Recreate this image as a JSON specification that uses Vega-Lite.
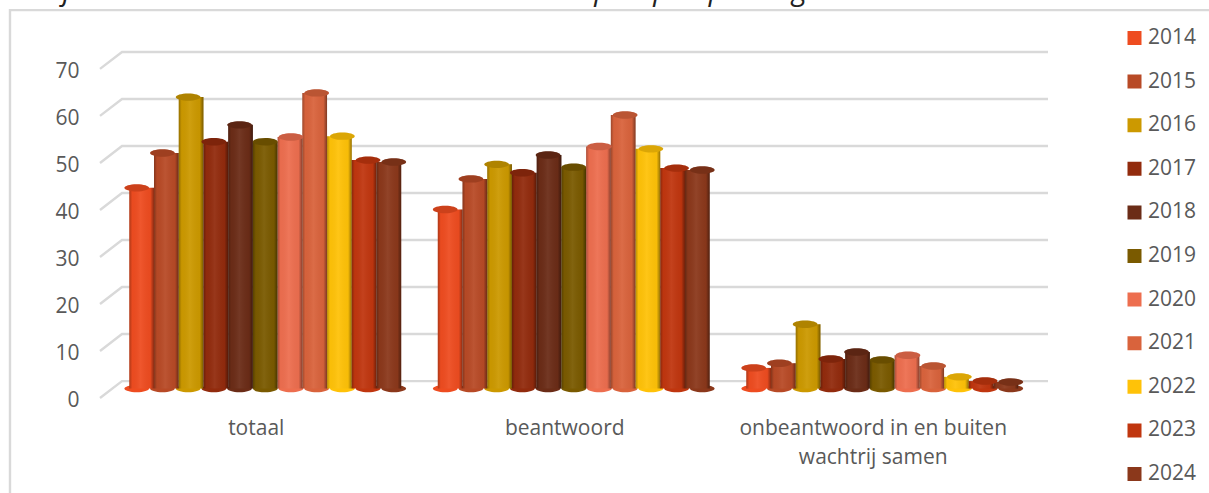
{
  "$schema": "https://vega.github.io/schema/vega-lite/v6.json",
  "autosize": "none",
  "width": 948,
  "height": 362,
  "padding": {"left": 100, "top": 36, "right": 161, "bottom": 95},
  "background": "white",
  "config": {
    "view": {"stroke": null},
    "axis": {"grid": false, "ticks": false, "domain": false}
  },
  "datasets": {
    "counts": [
      {"groep": "totaal", "jaar": "2014", "waarde": 42.7},
      {"groep": "totaal", "jaar": "2015", "waarde": 50.1},
      {"groep": "totaal", "jaar": "2016", "waarde": 62.0},
      {"groep": "totaal", "jaar": "2017", "waarde": 52.5},
      {"groep": "totaal", "jaar": "2018", "waarde": 56.1},
      {"groep": "totaal", "jaar": "2019", "waarde": 52.5},
      {"groep": "totaal", "jaar": "2020", "waarde": 53.5},
      {"groep": "totaal", "jaar": "2021", "waarde": 62.9},
      {"groep": "totaal", "jaar": "2022", "waarde": 53.7},
      {"groep": "totaal", "jaar": "2023", "waarde": 48.6},
      {"groep": "totaal", "jaar": "2024", "waarde": 48.2},
      {"groep": "beantwoord", "jaar": "2014", "waarde": 38.1},
      {"groep": "beantwoord", "jaar": "2015", "waarde": 44.6},
      {"groep": "beantwoord", "jaar": "2016", "waarde": 47.7},
      {"groep": "beantwoord", "jaar": "2017", "waarde": 45.9},
      {"groep": "beantwoord", "jaar": "2018", "waarde": 49.7},
      {"groep": "beantwoord", "jaar": "2019", "waarde": 47.1},
      {"groep": "beantwoord", "jaar": "2020", "waarde": 51.5},
      {"groep": "beantwoord", "jaar": "2021", "waarde": 58.2},
      {"groep": "beantwoord", "jaar": "2022", "waarde": 51.0},
      {"groep": "beantwoord", "jaar": "2023", "waarde": 46.9},
      {"groep": "beantwoord", "jaar": "2024", "waarde": 46.5},
      {"groep": "onbeantwoord in en buiten wachtrij samen", "jaar": "2014", "waarde": 4.4},
      {"groep": "onbeantwoord in en buiten wachtrij samen", "jaar": "2015", "waarde": 5.4},
      {"groep": "onbeantwoord in en buiten wachtrij samen", "jaar": "2016", "waarde": 13.7},
      {"groep": "onbeantwoord in en buiten wachtrij samen", "jaar": "2017", "waarde": 6.3},
      {"groep": "onbeantwoord in en buiten wachtrij samen", "jaar": "2018", "waarde": 7.8},
      {"groep": "onbeantwoord in en buiten wachtrij samen", "jaar": "2019", "waarde": 6.1},
      {"groep": "onbeantwoord in en buiten wachtrij samen", "jaar": "2020", "waarde": 7.1},
      {"groep": "onbeantwoord in en buiten wachtrij samen", "jaar": "2021", "waarde": 4.8},
      {"groep": "onbeantwoord in en buiten wachtrij samen", "jaar": "2022", "waarde": 2.5},
      {"groep": "onbeantwoord in en buiten wachtrij samen", "jaar": "2023", "waarde": 1.6},
      {"groep": "onbeantwoord in en buiten wachtrij samen", "jaar": "2024", "waarde": 1.4}
    ],
    "heading": [
      {"titel": "Grafiek 5.3: Gemiddeld aantal contacten en oproepen per dag", "diepte": -85, "niveau": 82.7}
    ],
    "guides": [
      {"pad": "rand", "diepte": -90, "niveau": -22.2, "stap": 0},
      {"pad": "rand", "diepte": -90, "niveau": 80.5, "stap": 1},
      {"pad": "rand", "diepte": 1109, "niveau": 80.5, "stap": 2},
      {"pad": "g0", "diepte": 0, "niveau": -2, "stap": 0},
      {"pad": "g0", "diepte": 22, "niveau": 1.6, "stap": 1},
      {"pad": "g0", "diepte": 948, "niveau": 1.6, "stap": 2},
      {"pad": "g10", "diepte": 0, "niveau": 8, "stap": 0},
      {"pad": "g10", "diepte": 22, "niveau": 11.6, "stap": 1},
      {"pad": "g10", "diepte": 948, "niveau": 11.6, "stap": 2},
      {"pad": "g20", "diepte": 0, "niveau": 18, "stap": 0},
      {"pad": "g20", "diepte": 22, "niveau": 21.6, "stap": 1},
      {"pad": "g20", "diepte": 948, "niveau": 21.6, "stap": 2},
      {"pad": "g30", "diepte": 0, "niveau": 28, "stap": 0},
      {"pad": "g30", "diepte": 22, "niveau": 31.6, "stap": 1},
      {"pad": "g30", "diepte": 948, "niveau": 31.6, "stap": 2},
      {"pad": "g40", "diepte": 0, "niveau": 38, "stap": 0},
      {"pad": "g40", "diepte": 22, "niveau": 41.6, "stap": 1},
      {"pad": "g40", "diepte": 948, "niveau": 41.6, "stap": 2},
      {"pad": "g50", "diepte": 0, "niveau": 48, "stap": 0},
      {"pad": "g50", "diepte": 22, "niveau": 51.6, "stap": 1},
      {"pad": "g50", "diepte": 948, "niveau": 51.6, "stap": 2},
      {"pad": "g60", "diepte": 0, "niveau": 58, "stap": 0},
      {"pad": "g60", "diepte": 22, "niveau": 61.6, "stap": 1},
      {"pad": "g60", "diepte": 948, "niveau": 61.6, "stap": 2},
      {"pad": "g70", "diepte": 0, "niveau": 68, "stap": 0},
      {"pad": "g70", "diepte": 22, "niveau": 71.6, "stap": 1},
      {"pad": "g70", "diepte": 948, "niveau": 71.6, "stap": 2}
    ]
  },
  "data": {"name": "counts"},
  "resolve": {
    "scale": {"x": "independent", "xOffset": "independent"},
    "axis": {"y": "independent"},
    "legend": {"color": "independent"}
  },
  "layer": [
    {
      "data": {"name": "guides"},
      "mark": {"type": "line", "stroke": "#d9d9d9", "strokeWidth": 2.4, "clip": false, "interpolate": "linear"},
      "encoding": {
        "x": {"field": "diepte", "type": "quantitative", "axis": null, "scale": {"domain": [0, 948], "nice": false, "zero": false}},
        "y": {
          "field": "niveau",
          "type": "quantitative",
          "scale": {"domain": [-2, 75], "nice": false, "zero": false},
          "axis": {
            "title": null,
            "values": [0, 10, 20, 30, 40, 50, 60, 70],
            "labelOffset": 11.5,
            "labelPadding": 21,
            "labelFont": "Open Sans",
            "labelFontSize": 21,
            "labelColor": "#595959"
          }
        },
        "detail": {"field": "pad"},
        "order": {"field": "stap"}
      }
    },
    {
      "data": {"name": "heading"},
      "mark": {"type": "text", "align": "left", "baseline": "alphabetic", "font": "Open Sans", "fontSize": 29, "fontStyle": "italic", "color": "#222222", "limit": 1200},
      "encoding": {
        "x": {"field": "diepte", "type": "quantitative", "axis": null, "scale": {"domain": [0, 948], "nice": false, "zero": false}},
        "y": {"field": "niveau", "type": "quantitative", "axis": null},
        "text": {"field": "titel"}
      }
    },
    {
      "mark": {"type": "point", "filled": true, "opacity": 1, "strokeWidth": 0, "size": 610, "shape": "M-1,0 A1,0.3 0 1 1 1,0 A1,0.3 0 1 1 -1,0 Z"},
      "encoding": {
        "x": {"field": "groep", "type": "nominal", "sort": null, "bandPosition": 0, "axis": null, "scale": {"type": "band", "range": [11, 936.5], "paddingInner": 0, "paddingOuter": 0}},
        "xOffset": {"field": "jaar", "type": "nominal", "scale": {"type": "point", "paddingOuter": 1.65}},
        "y": {"datum": 0, "type": "quantitative", "axis": null},
        "color": {"field": "jaar", "type": "nominal", "legend": null, "scale": {"domain": ["2014", "2015", "2016", "2017", "2018", "2019", "2020", "2021", "2022", "2023", "2024"], "range": ["#EE4C20", "#B84A26", "#CC9900", "#922B0D", "#6B2C17", "#7A5A00", "#ED6E4F", "#D9633C", "#FFC208", "#C0360F", "#8B381B"]}}
      }
    },
    {
      "mark": {"type": "bar", "strokeWidth": 0},
      "encoding": {
        "x": {
          "field": "groep",
          "type": "nominal",
          "sort": null,
          "scale": {"range": [11, 936.5], "paddingInner": 0, "paddingOuter": 0},
          "axis": {
            "title": null,
            "labelAngle": 0,
            "labelOffset": -9,
            "labelPadding": 30,
            "labelBaseline": "middle",
            "labelFont": "Open Sans",
            "labelFontSize": 21,
            "labelColor": "#595959",
            "labelLimit": 400,
            "labelLineHeight": 29,
            "labelExpr": "datum.label == 'onbeantwoord in en buiten wachtrij samen' ? ['onbeantwoord in en buiten', 'wachtrij samen'] : datum.label"
          }
        },
        "xOffset": {"field": "jaar", "type": "nominal", "scale": {"paddingInner": 0, "paddingOuter": 0.74}},
        "y": {"field": "waarde", "type": "quantitative", "axis": null},
        "color": {
          "field": "jaar",
          "type": "nominal",
          "legend": {
            "title": null,
            "orient": "none",
            "legendX": 1024,
            "legendY": -10,
            "symbolType": "square",
            "symbolSize": 196,
            "symbolStrokeWidth": 0,
            "symbolOpacity": 1,
            "labelFont": "Open Sans",
            "labelFontSize": 21,
            "labelColor": "#595959",
            "labelOffset": 3,
            "rowPadding": 19.6,
            "clipHeight": 24
          }
        }
      }
    },
    {
      "mark": {
        "type": "bar",
        "strokeWidth": 0,
        "fill": {
          "gradient": "linear", "x1": 0, "y1": 0, "x2": 1, "y2": 0,
          "stops": [
            {"offset": 0, "color": "rgba(0,0,0,0.28)"},
            {"offset": 0.12, "color": "rgba(0,0,0,0.02)"},
            {"offset": 0.45, "color": "rgba(255,255,255,0.06)"},
            {"offset": 0.85, "color": "rgba(0,0,0,0.03)"},
            {"offset": 1, "color": "rgba(0,0,0,0.42)"}
          ]
        }
      },
      "encoding": {
        "x": {"field": "groep", "type": "nominal", "sort": null, "axis": null, "scale": {"range": [11, 936.5], "paddingInner": 0, "paddingOuter": 0}},
        "xOffset": {"field": "jaar", "type": "nominal", "scale": {"paddingInner": 0, "paddingOuter": 0.74}},
        "y": {"field": "waarde", "type": "quantitative", "axis": null}
      }
    },
    {
      "mark": {"type": "point", "filled": true, "opacity": 1, "strokeWidth": 0, "size": 610, "shape": "M-1,0 A1,0.3 0 1 1 1,0 A1,0.3 0 1 1 -1,0 Z"},
      "encoding": {
        "x": {"field": "groep", "type": "nominal", "sort": null, "bandPosition": 0, "axis": null, "scale": {"type": "band", "range": [11, 936.5], "paddingInner": 0, "paddingOuter": 0}},
        "xOffset": {"field": "jaar", "type": "nominal", "scale": {"type": "point", "paddingOuter": 1.65}},
        "y": {"field": "waarde", "type": "quantitative", "axis": null},
        "color": {"field": "jaar", "type": "nominal", "legend": null}
      }
    },
    {
      "mark": {"type": "point", "filled": true, "opacity": 0.14, "color": "#000000", "strokeWidth": 0, "size": 610, "shape": "M-1,0 A1,0.3 0 1 1 1,0 A1,0.3 0 1 1 -1,0 Z"},
      "encoding": {
        "x": {"field": "groep", "type": "nominal", "sort": null, "bandPosition": 0, "axis": null, "scale": {"type": "band", "range": [11, 936.5], "paddingInner": 0, "paddingOuter": 0}},
        "xOffset": {"field": "jaar", "type": "nominal", "scale": {"type": "point", "paddingOuter": 1.65}},
        "y": {"field": "waarde", "type": "quantitative", "axis": null}
      }
    }
  ]
}
